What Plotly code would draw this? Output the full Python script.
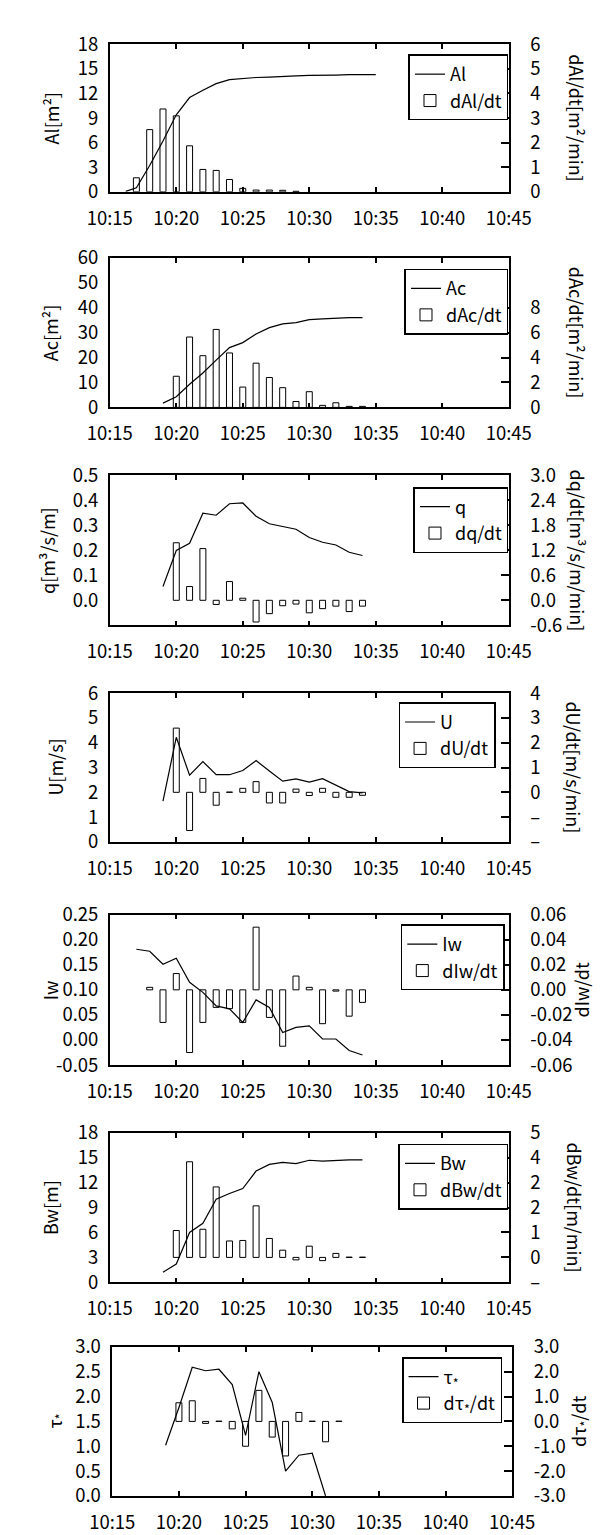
import plotly.graph_objects as go

FONT = "Noto Sans CJK JP"
DAY = "2000-01-01 "

# ---------------- data ----------------
tick_labels = ["10:15", "10:20", "10:25", "10:30", "10:35", "10:40", "10:45"]

# Panel 1 : Al
al_time = ["10:16:12", "10:17", "10:18", "10:19", "10:20", "10:21", "10:22", "10:23", "10:24", "10:25",
           "10:26", "10:27", "10:28", "10:29", "10:30", "10:31", "10:32", "10:33", "10:34", "10:35"]
al_val = [0.05, 0.5, 3.2, 6.2, 9.4, 11.5, 12.4, 13.2, 13.7, 13.85,
          13.95, 14.0, 14.1, 14.15, 14.2, 14.2, 14.25, 14.3, 14.3, 14.3]
dal_time = ["10:17", "10:18", "10:19", "10:20", "10:21", "10:22", "10:23", "10:24", "10:25",
            "10:26", "10:27", "10:28", "10:29"]
dal_val = [0.57, 2.53, 3.37, 3.09, 1.87, 0.91, 0.87, 0.50, 0.14, 0.07, 0.07, 0.06, 0.02]

# Panel 2 : Ac
ac_time = ["10:19", "10:20", "10:21", "10:22", "10:23", "10:24", "10:25", "10:26", "10:27", "10:28",
           "10:29", "10:30", "10:31", "10:32", "10:33", "10:34"]
ac_val = [1.7, 4.3, 9.3, 13.8, 19.0, 24.0, 26.0, 29.5, 32.0, 33.5, 34.0, 35.2, 35.5, 35.8, 36.0, 36.0]
dac_time = ["10:20", "10:21", "10:22", "10:23", "10:24", "10:25", "10:26", "10:27", "10:28", "10:29",
            "10:30", "10:31", "10:32", "10:33", "10:34"]
dac_val = [2.5, 5.65, 4.15, 6.26, 4.37, 1.63, 3.55, 2.4, 1.58, 0.47, 1.26, 0.16, 0.37, 0.08, 0.08]

# Panel 3 : q
q_time = ac_time
q_val = [0.055, 0.199, 0.228, 0.348, 0.34, 0.386, 0.389, 0.336, 0.306, 0.295, 0.284, 0.251, 0.232,
         0.221, 0.192, 0.179]
dq_time = dac_time
dq_val = [1.38, 0.33, 1.24, -0.10, 0.45, 0.05, -0.52, -0.32, -0.13, -0.09, -0.30, -0.20, -0.14, -0.27, -0.14]

# Panel 4 : U
u_time = ac_time
u_val = [1.64, 4.22, 2.69, 3.24, 2.71, 2.71, 2.88, 3.28, 2.86, 2.45, 2.54, 2.41, 2.55, 2.29, 2.03, 1.98]
du_time = dac_time
du_val = [2.59, -1.54, 0.56, -0.52, 0.01, 0.16, 0.43, -0.43, -0.43, 0.13, -0.13, 0.16, -0.20, -0.20, -0.12]

# Panel 5 : Iw
iw_time = ["10:17", "10:18", "10:19", "10:20", "10:21", "10:22", "10:23", "10:24", "10:25", "10:26",
           "10:27", "10:28", "10:29", "10:30", "10:31", "10:32", "10:33", "10:34"]
iw_val = [0.181, 0.177, 0.151, 0.163, 0.115, 0.095, 0.068, 0.062, 0.035, 0.080,
          0.065, 0.015, 0.025, 0.028, 0.002, 0.002, -0.021, -0.030]
diw_time = ["10:18", "10:19", "10:20", "10:21", "10:22", "10:23", "10:24", "10:25", "10:26", "10:27",
            "10:28", "10:29", "10:30", "10:31", "10:32", "10:33", "10:34"]
diw_val = [0.002, -0.026, 0.013, -0.050, -0.026, -0.014, -0.015, -0.026, 0.050, -0.022,
           -0.045, 0.011, 0.002, -0.027, -0.001, -0.021, -0.010]

# Panel 6 : Bw
bw_time = ac_time
bw_val = [1.22, 2.2, 6.0, 7.1, 10.0, 10.7, 11.3, 13.4, 14.2, 14.45, 14.3, 14.7, 14.6, 14.7, 14.75, 14.75]
dbw_time = dac_time
dbw_val = [1.08, 3.84, 1.13, 2.83, 0.66, 0.68, 2.07, 0.76, 0.29, -0.10, 0.45, -0.13, 0.16, 0.01, 0.01]

# Panel 7 : tau*
tau_time = ["10:19", "10:20", "10:21", "10:22", "10:23", "10:24", "10:25", "10:26", "10:27", "10:28",
            "10:29", "10:30", "10:31"]
tau_val = [1.02, 1.78, 2.59, 2.52, 2.55, 2.24, 1.22, 2.50, 1.88, 0.50, 0.82, 0.86, 0.0]
dtau_time = ["10:20", "10:21", "10:22", "10:23", "10:24", "10:25", "10:26", "10:27", "10:28", "10:29",
             "10:30", "10:31", "10:32"]
dtau_val = [0.75, 0.83, -0.08, 0.01, -0.30, -1.00, 1.25, -0.63, -1.39, 0.36, 0.01, -0.82, 0.01]


def ts(lst):
    return [DAY + s for s in lst]


def fmt(vals, spec):
    if spec == "d":
        return [str(int(round(v))) for v in vals]
    return [format(v, spec) for v in vals]


# ---------------- panel definitions ----------------
panels = [
    dict(line=(al_time, al_val), bar=(dal_time, dal_val), lname="Al", bname="dAl/dt",
         ltitle="Al[m²]", rtitle="dAl/dt[m²/min]", rangle=90,
         lrange=[0, 18], ltv=[0, 3, 6, 9, 12, 15, 18], ltt=None, lfmt="d",
         rrange=[0, 6], rtv=[0, 1, 2, 3, 4, 5, 6], rtt=None, rfmt="d",
         top=21.7, bot=171.7, xl=85.3, xr=517.3, legtop=32, legright=517, ltx=22, rtx=591),
    dict(line=(ac_time, ac_val), bar=(dac_time, dac_val), lname="Ac", bname="dAc/dt",
         ltitle="Ac[m²]", rtitle="dAc/dt[m²/min]", rangle=90,
         lrange=[0, 60], ltv=[0, 10, 20, 30, 40, 50, 60], ltt=None, lfmt="d",
         rrange=[0, 12], rtv=[0, 2, 4, 6, 8], rtt=None, rfmt="d",
         top=239, bot=391, xl=85.3, xr=517.3, legtop=250, legright=517, ltx=20, rtx=591),
    dict(line=(q_time, q_val), bar=(dq_time, dq_val), lname="q", bname="dq/dt",
         ltitle="q[m³/s/m]", rtitle="dq/dt[m³/s/m/min]", rangle=90,
         lrange=[-0.1, 0.5], ltv=[0, 0.1, 0.2, 0.3, 0.4, 0.5], ltt=None, lfmt=".1f",
         rrange=[-0.6, 3.0], rtv=[-0.6, 0, 0.6, 1.2, 1.8, 2.4, 3.0], rtt=None, rfmt=".1f",
         top=460, bot=612.7, xl=85.3, xr=517.3, legtop=472, legright=517, ltx=18, rtx=592),
    dict(line=(u_time, u_val), bar=(du_time, du_val), lname="U", bname="dU/dt",
         ltitle="U[m/s]", rtitle="dU/dt[m/s/min]", rangle=90,
         lrange=[0, 6], ltv=[0, 1, 2, 3, 4, 5, 6], ltt=None, lfmt="d",
         rrange=[-2, 4], rtv=[-2, -1, 0, 1, 2, 3, 4], rtt=["–", "–", "0", "1", "2", "3", "4"], rfmt="d",
         top=681.7, bot=833, xl=85.3, xr=517.3, legtop=691, legright=503, ltx=25, rtx=588),
    dict(line=(iw_time, iw_val), bar=(diw_time, diw_val), lname="Iw", bname="dIw/dt",
         ltitle="Iw", rtitle="dIw/dt", rangle=-90,
         lrange=[-0.05, 0.25], ltv=[-0.05, 0, 0.05, 0.10, 0.15, 0.20, 0.25], ltt=None, lfmt=".2f",
         rrange=[-0.06, 0.06], rtv=[-0.06, -0.04, -0.02, 0, 0.02, 0.04, 0.06], rtt=None, rfmt=".2f",
         top=907, bot=1060, xl=85.3, xr=517.3, legtop=917, legright=513, ltx=20, rtx=595),
    dict(line=(bw_time, bw_val), bar=(dbw_time, dbw_val), lname="Bw", bname="dBw/dt",
         ltitle="Bw[m]", rtitle="dBw/dt[m/min]", rangle=90,
         lrange=[0, 18], ltv=[0, 3, 6, 9, 12, 15, 18], ltt=None, lfmt="d",
         rrange=[-1, 5], rtv=[-1, 0, 1, 2, 3, 4, 5], rtt=["–", "0", "1", "2", "2", "4", "5"], rfmt="d",
         top=1129, bot=1281, xl=85.3, xr=517.3, legtop=1140, legright=517, ltx=20, rtx=589),
    dict(line=(tau_time, tau_val), bar=(dtau_time, dtau_val), lname="τ<sub>*</sub>",
         bname="dτ<sub>*</sub>/dt",
         ltitle="τ<sub>*</sub>", rtitle="dτ<sub>*</sub>/dt", rangle=-90,
         lrange=[0, 3], ltv=[0, 0.5, 1.0, 1.5, 2.0, 2.5, 3.0], ltt=None, lfmt=".1f",
         rrange=[-3, 3], rtv=[-3, -2, -1, 0, 1, 2, 3], rtt=None, rfmt=".1f",
         top=1346.7, bot=1498.3, xl=88, xr=521, legtop=1357, legright=510, ltx=26, rtx=594),
]

W, H = 602, 1535
TICK_SIZE = 18.5
TEXT_SIZE = 18
fig = go.Figure()
layout = dict(width=W, height=H, margin=dict(l=0, r=0, t=0, b=0),
              paper_bgcolor="white", plot_bgcolor="white", showlegend=True,
              font=dict(family=FONT, size=TEXT_SIZE, color="black"), barmode="overlay")
annotations = []
tickfont = dict(family=FONT, size=TICK_SIZE, color="black")

for i, p in enumerate(panels, start=1):
    xa = "x" if i == 1 else f"x{i}"
    yl = f"y{2 * i - 1}" if i > 1 else "y"
    yr = f"y{2 * i}"
    leg = "legend" if i == 1 else f"legend{i}"

    fig.add_trace(go.Scatter(x=ts(p["line"][0]), y=p["line"][1], mode="lines", name=p["lname"],
                             line=dict(color="black", width=1.2), xaxis=xa, yaxis=yl, legend=leg))
    fig.add_trace(go.Bar(x=ts(p["bar"][0]), y=p["bar"][1], name=p["bname"], width=27000,
                         marker=dict(color="rgba(255,255,255,0)", line=dict(color="black", width=1)),
                         xaxis=xa, yaxis=yr, legend=leg))

    ydom = [1 - p["bot"] / H, 1 - p["top"] / H]
    xdom = [p["xl"] / W, p["xr"] / W]
    xkey = "xaxis" if i == 1 else f"xaxis{i}"
    ylkey = "yaxis" if i == 1 else f"yaxis{2 * i - 1}"
    yrkey = f"yaxis{2 * i}"

    ltt = p["ltt"] or fmt(p["ltv"], p["lfmt"])
    rtt = p["rtt"] or fmt(p["rtv"], p["rfmt"])

    layout[xkey] = dict(domain=xdom, anchor=yl, type="date",
                        range=[DAY + "10:15", DAY + "10:45"],
                        tickvals=ts(tick_labels), ticktext=tick_labels,
                        showline=True, linecolor="black", linewidth=1.5, mirror="ticks",
                        ticks="inside", ticklen=5, tickwidth=1.5, tickcolor="black",
                        showgrid=False, zeroline=False, tickfont=tickfont, ticklabelstandoff=9)
    layout[ylkey] = dict(domain=ydom, anchor=xa, range=p["lrange"], tickvals=p["ltv"],
                         ticktext=ltt,
                         showline=True, linecolor="black", linewidth=1.5, ticks="",
                         showgrid=False, zeroline=False, tickfont=tickfont, ticklabelstandoff=6)
    layout[yrkey] = dict(domain=ydom, anchor=xa, overlaying=yl, side="right",
                         range=p["rrange"], tickvals=p["rtv"], ticktext=rtt,
                         showline=True, linecolor="black", linewidth=1.5,
                         ticks="inside", ticklen=8, tickwidth=1.5, tickcolor="black",
                         showgrid=False, zeroline=False, tickfont=tickfont, ticklabelstandoff=16)
    layout[leg] = dict(x=p["legright"] / W, xanchor="right", y=1 - p["legtop"] / H, yanchor="top",
                       bordercolor="black", borderwidth=1.5, bgcolor="white",
                       font=dict(family=FONT, size=TEXT_SIZE, color="black"), tracegroupgap=0, itemwidth=30)

    cy = 1 - (p["top"] + p["bot"]) / 2 / H
    annotations.append(dict(text=p["ltitle"], x=p["ltx"] / W, y=cy, xref="paper", yref="paper",
                            showarrow=False, textangle=-90, xanchor="center", yanchor="middle",
                            font=dict(family=FONT, size=TEXT_SIZE, color="black")))
    annotations.append(dict(text=p["rtitle"], x=p["rtx"] / W, y=cy, xref="paper", yref="paper",
                            showarrow=False, textangle=p["rangle"], xanchor="center", yanchor="middle",
                            font=dict(family=FONT, size=TEXT_SIZE, color="black")))

layout["annotations"] = annotations
fig.update_layout(**layout)
fig.write_html("out.html")
